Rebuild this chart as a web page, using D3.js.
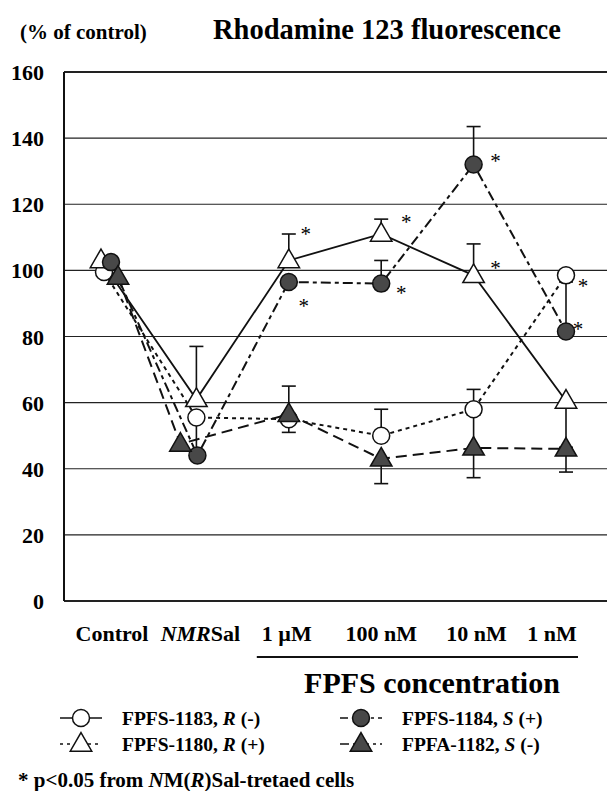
<!DOCTYPE html>
<html>
<head>
<meta charset="utf-8">
<script src="https://cdn.jsdelivr.net/npm/d3@7"></script>
<style>
  body { margin: 0; background: #fff; }
  svg { display: block; }
</style>
</head>
<body>
<div id="chart"></div>
<script>
// categories on the x axis
const categories = ["Control", "NMRSal", "1 µM", "100 nM", "10 nM", "1 nM"];
const yTicks = [0, 20, 40, 60, 80, 100, 120, 140, 160];

// % of control
const fpfs1183 = [99.5, 55.5, 55, 50, 58, 98.5];      // open circle, R(-)
const fpfs1180 = [103, 61, 103, 111, 98.5, 60.5];     // open triangle, R(+)
const fpfs1184 = [102.5, 44, 96.5, 96, 132, 81.5];    // filled circle, S(+)
const fpfa1182 = [98, 47.5, 56.5, 43, 46.3, 46];      // filled triangle, S(-)

// error bars (upward / downward length)
const err1183Up = [0, 0, 0, 8, 6, 0];
const err1183Dn = [0, 10, 4, 0, 0, 0];
const err1180Up = [0, 16, 8, 4.5, 9.5, 0];
const err1180Dn = [0, 0, 0, 0, 0, 14];
const err1184Up = [0, 0, 0, 7, 11.5, 15];
const err1184Dn = [0, 0, 0, 0, 0, 0];
const err1182Up = [0, 0, 8.5, 0, 10, 0];
const err1182Dn = [0, 0, 0, 7.5, 9, 7];

// significance marks: [series, category index]
const stars = [
  ["1180", 2], ["1184", 2], ["1180", 3], ["1184", 3],
  ["1184", 4], ["1180", 4], ["1183", 5], ["1184", 5]
];

const width = 607, height = 791;
const serif = '"Liberation Serif", "Times New Roman", "DejaVu Serif", serif';
const svg = d3.select("#chart").append("svg")
  .attr("width", width).attr("height", height)
  .attr("font-family", serif).attr("font-weight", "bold")
  .style("font-family", serif);

const x = d3.scalePoint().domain(categories).range([104, 566]);
const y = d3.scaleLinear().domain([0, 160]).range([601, 72]);
const left = 64, right = 607;
const ink = "#111";

// small horizontal nudges so overlapping markers stay visible
const dodge = {
  "1183": [0, 0, 0, 0, 0, 0],
  "1180": [-3, 0, 0, 0, 0, 0],
  "1184": [7, 1, 0, 0, 0, 0],
  "1182": [14, -16, 0, 0, 0, 0]
};

const series = [
  {key: "1183", label: "FPFS-1183, ", conf: "R", sign: " (-)", values: fpfs1183, up: err1183Up, dn: err1183Dn,
   shape: "circle", fill: "#fff", dash: "4,4", legendDash: null},
  {key: "1180", label: "FPFS-1180, ", conf: "R", sign: " (+)", values: fpfs1180, up: err1180Up, dn: err1180Dn,
   shape: "triangle", fill: "#fff", dash: null, legendDash: "3,4"},
  {key: "1184", label: "FPFS-1184, ", conf: "S", sign: " (+)", values: fpfs1184, up: err1184Up, dn: err1184Dn,
   shape: "circle", fill: "#484848", dash: "10,4,4,4", legendDash: "8,4,3,4"},
  {key: "1182", label: "FPFA-1182, ", conf: "S", sign: " (-)", values: fpfa1182, up: err1182Up, dn: err1182Dn,
   shape: "triangle", fill: "#484848", dash: "11,6", legendDash: "9,4,3,4"}
];

// header
svg.append("text").attr("x", 20).attr("y", 39).attr("font-size", 21).text("(% of control)");
svg.append("text").attr("x", 213).attr("y", 39).attr("font-size", 28.5).text("Rhodamine 123 fluorescence");

// grid
svg.append("g").selectAll("line").data(yTicks).join("line")
  .attr("x1", left).attr("x2", right)
  .attr("y1", d => y(d)).attr("y2", d => y(d))
  .attr("stroke", "#222")
  .attr("stroke-width", d => (d === 0 || d === 160) ? 2 : 1.1);
svg.append("line").attr("x1", left).attr("x2", left).attr("y1", y(160)).attr("y2", y(0))
  .attr("stroke", ink).attr("stroke-width", 2);

svg.append("g").selectAll("text").data(yTicks).join("text")
  .attr("x", 44).attr("y", d => y(d) + 8)
  .attr("text-anchor", "end").attr("font-size", 22)
  .text(d => d);

// x labels
const xl = svg.append("g").selectAll("text").data(categories).join("text")
  .attr("x", (d, i) => x(d) + [8, 4, -2, 0, 3, -14][i])
  .attr("y", 641).attr("text-anchor", "middle").attr("font-size", 22);
xl.each(function(d) {
  const t = d3.select(this);
  if (d === "NMRSal") {
    t.append("tspan").attr("font-style", "italic").text("NMR");
    t.append("tspan").text("Sal");
  } else t.text(d);
});

svg.append("line").attr("x1", x("1 µM") - 32).attr("x2", x("1 nM") + 12)
  .attr("y1", 657).attr("y2", 657).attr("stroke", ink).attr("stroke-width", 2);
svg.append("text").attr("x", 432).attr("y", 693).attr("text-anchor", "middle")
  .attr("font-size", 30).text("FPFS concentration");

const px = (s, i) => x(categories[i]) + dodge[s.key][i];
const tri = d3.symbol().type(d3.symbolTriangle).size(200);

// connecting lines
const lineGen = d3.line();
series.forEach(s => {
  svg.append("path")
    .attr("d", lineGen(s.values.map((v, i) => [px(s, i), y(v)])))
    .attr("fill", "none").attr("stroke", ink)
    .attr("stroke-width", s.dash ? 2 : 1.8)
    .attr("stroke-dasharray", s.dash);
});

// error bars
series.forEach(s => {
  const g = svg.append("g").attr("stroke", ink).attr("stroke-width", 1.6);
  s.values.forEach((v, i) => {
    const cx = px(s, i);
    [[s.up[i], 1], [s.dn[i], -1]].forEach(([e, dir]) => {
      if (!e) return;
      const yEnd = y(v + dir * e);
      g.append("line").attr("x1", cx).attr("x2", cx).attr("y1", y(v)).attr("y2", yEnd);
      g.append("line").attr("x1", cx - 7).attr("x2", cx + 7).attr("y1", yEnd).attr("y2", yEnd);
    });
  });
});

// markers
function marker(g, s, cx, cy) {
  if (s.shape === "circle") {
    g.append("circle").attr("cx", cx).attr("cy", cy).attr("r", 8.5)
      .attr("fill", s.fill).attr("stroke", ink).attr("stroke-width", 1.5);
  } else {
    g.append("path").attr("d", tri).attr("transform", `translate(${cx},${cy + 1})`)
      .attr("fill", s.fill).attr("stroke", ink).attr("stroke-width", 1.5);
  }
}
series.forEach(s => {
  const g = svg.append("g");
  s.values.forEach((v, i) => marker(g, s, px(s, i), y(v)));
});

// asterisks
const starOffset = {
  "1180,2": [17, -30], "1184,2": [15, 20], "1180,3": [25, -16], "1184,3": [20, 5],
  "1184,4": [22, -8], "1180,4": [22, -11], "1183,5": [17, 7], "1184,5": [12, -7]
};
svg.append("g").selectAll("text").data(stars).join("text")
  .attr("x", d => {
    const s = series.find(q => q.key === d[0]);
    return px(s, d[1]) + starOffset[d.join(",")][0];
  })
  .attr("y", d => {
    const s = series.find(q => q.key === d[0]);
    return y(s.values[d[1]]) + starOffset[d.join(",")][1] + 11;
  })
  .attr("text-anchor", "middle").attr("font-size", 21).attr("font-weight", "normal")
  .text("*");

// legend
const legendPos = [[0, 0], [0, 1], [1, 0], [1, 1]];
series.forEach((s, k) => {
  const [col, row] = legendPos[k];
  const lx = 60 + col * 280, ly = 718 + row * 26;
  const g = svg.append("g");
  g.append("line").attr("x1", lx).attr("x2", lx + 42).attr("y1", ly).attr("y2", ly)
    .attr("stroke", ink).attr("stroke-width", 1.6).attr("stroke-dasharray", s.legendDash);
  marker(g, s, lx + 21, ly);
  const t = g.append("text").attr("x", lx + 62).attr("y", ly + 7).attr("font-size", 19.5);
  t.append("tspan").text(s.label);
  t.append("tspan").attr("font-style", "italic").text(s.conf);
  t.append("tspan").text(s.sign);
});

// footnote
const fn = svg.append("text").attr("x", 18).attr("y", 787).attr("font-size", 21);
fn.append("tspan").text("* p<0.05 from ");
fn.append("tspan").attr("font-style", "italic").text("N");
fn.append("tspan").text("M(");
fn.append("tspan").attr("font-style", "italic").text("R");
fn.append("tspan").text(")Sal-tretaed cells");
</script>
</body>
</html>
